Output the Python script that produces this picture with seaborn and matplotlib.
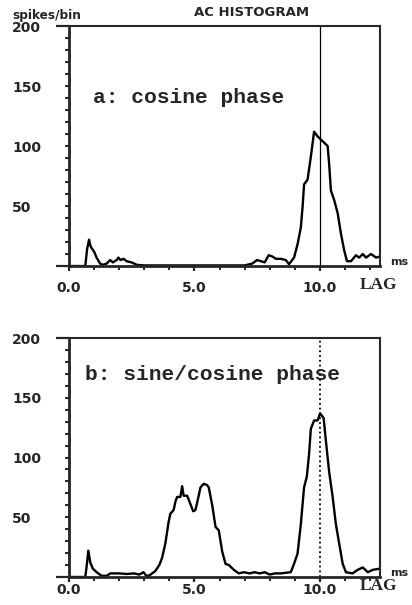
import numpy as np
import pandas as pd
import matplotlib
matplotlib.use("Agg")
import matplotlib.pyplot as plt
from matplotlib.ticker import MultipleLocator, FixedLocator, FuncFormatter
import seaborn as sns

# ---- data ----
lag_a = [0.0, 0.65, 0.72, 0.8, 0.85, 0.9, 1.0, 1.1, 1.24, 1.35, 1.5, 1.64, 1.75, 1.9, 1.97,
         2.05, 2.17, 2.3, 2.5, 2.7, 3.0, 4.0, 5.0, 6.0, 7.0, 7.3, 7.5, 7.65, 7.8, 7.96, 8.1,
         8.25, 8.44, 8.64, 8.77, 8.97, 9.11, 9.24, 9.31, 9.37, 9.51, 9.64, 9.77, 9.91, 10.11,
         10.31, 10.37, 10.44, 10.57, 10.71, 10.84, 10.97, 11.08, 11.24, 11.44, 11.57, 11.71,
         11.84, 12.04, 12.24, 12.4]
cnt_a = [0, 0, 14, 22, 17, 15, 12, 7, 2, 1, 2, 5, 3, 5, 7,
         5, 6, 4, 3, 1, 0.5, 0.5, 0.5, 0.5, 0.5, 2, 5, 4, 3, 9, 8,
         6, 6, 5, 1.5, 7, 18, 32, 49, 68, 72, 91, 112, 108, 104,
         100, 85, 63, 55, 44, 27, 13, 4, 4, 9, 7, 10,
         7, 10, 7, 8]

lag_b = [0.0, 0.65, 0.72, 0.77, 0.85, 0.95, 1.1, 1.3, 1.5, 1.65, 2.0, 2.3, 2.6, 2.8, 2.97,
         3.1, 3.25, 3.44, 3.6, 3.71, 3.84, 3.97, 4.04, 4.17, 4.24, 4.31, 4.44, 4.51, 4.57,
         4.71, 4.84, 4.95, 5.04, 5.17, 5.24, 5.37, 5.5, 5.57, 5.71, 5.84, 5.97, 6.11, 6.24,
         6.37, 6.57, 6.77, 6.97, 7.2, 7.4, 7.6, 7.8, 8.0, 8.2, 8.44, 8.84, 8.97, 9.11, 9.24,
         9.37, 9.48, 9.57, 9.64, 9.77, 9.91, 10.01, 10.15, 10.24, 10.37, 10.51, 10.64,
         10.77, 10.91, 11.04, 11.3, 11.51, 11.71, 11.91, 12.11, 12.4]
cnt_b = [0, 0, 12, 22, 12, 7, 4, 1, 1, 3, 3, 2.5, 3, 2, 4,
         0.5, 2, 5, 10, 16, 28, 46, 53, 56, 63, 67, 67, 76, 68,
         68, 61, 55, 56, 68, 75, 78, 77, 75, 60, 42, 39, 21, 11,
         10, 6, 3, 4, 3, 4, 3, 4, 2, 3, 3, 4, 11, 19.5, 44,
         75, 84, 103, 124, 131, 131, 137, 133, 114, 88, 67, 44,
         28, 11, 4, 3, 6, 8, 4, 6, 7]

xtick_vals = [0, 5, 10]
xtick_labels = ["0.0", "5.0", "10.0"]
ytick_vals = [50, 100, 150, 200]
ytick_labels = ["50", "100", "150", "200"]
panel_titles = ["a: cosine phase", "b: sine/cosine phase"]
marker_lag = 10.0

sns.set_style("ticks")
plt.rcParams["font.family"] = ["DejaVu Sans"]
plt.rcParams["font.weight"] = "bold"

fig = plt.figure(figsize=(4.12, 6.05), dpi=100)
ax_a = fig.add_axes([0.1675, 0.5603, 0.755, 0.3967])
ax_b = fig.add_axes([0.1675, 0.0463, 0.755, 0.395])

df_a = pd.DataFrame({"lag": lag_a, "count": cnt_a})
df_b = pd.DataFrame({"lag": lag_b, "count": cnt_b})

ylab = dict(zip(ytick_vals, ytick_labels))


def yfmt(v, pos):
    return ylab.get(int(round(v)), "")


setups = [
    (ax_a, df_a, panel_titles[0], (0.077, 0.679), "-", 0.9, 7.0),
    (ax_b, df_b, panel_titles[1], (0.051, 0.824), ":", 1.3, 0.6),
]

for ax, df, title, tpos, vls, vlw, xpad in setups:
    sns.lineplot(data=df, x="lag", y="count", ax=ax, color="black",
                 linewidth=1.7, estimator=None, sort=False)
    ax.axvline(marker_lag, color="black", linestyle=vls, linewidth=vlw, zorder=1)
    ax.set_xlim(0, 12.4)
    ax.set_ylim(0, 200)
    ax.set_xlabel("")
    ax.set_ylabel("")
    ax.xaxis.set_major_locator(FixedLocator(xtick_vals))
    ax.set_xticklabels(xtick_labels)
    ax.xaxis.set_minor_locator(MultipleLocator(1))
    # long ticks at the axis ends (0 and 200), short ticks every 10
    ax.yaxis.set_major_locator(FixedLocator([0, 200]))
    ax.yaxis.set_major_formatter(FuncFormatter(yfmt))
    ax.yaxis.set_minor_locator(MultipleLocator(10))
    ax.yaxis.set_minor_formatter(FuncFormatter(yfmt))
    ax.tick_params(axis="y", which="major", direction="out", length=9.5, width=1.6,
                   pad=31.5, labelsize=10)
    ax.tick_params(axis="y", which="minor", direction="out", length=3, width=1.4,
                   pad=38.0, labelsize=10)
    ax.tick_params(axis="x", which="major", direction="out", length=3.6, width=1.6,
                   pad=xpad, labelsize=10)
    ax.tick_params(axis="x", which="minor", direction="out", length=2.6, width=1.4)
    for side in ["left", "bottom"]:
        ax.spines[side].set_linewidth(2.0)
    for side in ["top", "right"]:
        ax.spines[side].set_linewidth(1.5)
    ax.text(tpos[0], tpos[1], title, transform=ax.transAxes, ha="left",
            va="baseline", family="Liberation Mono", fontweight="bold", fontsize=15.3)
    ax.text(1.06, 0.015, "ms", transform=ax.transAxes, ha="center", va="center",
            fontsize=8, fontweight="bold", clip_on=False)

ax_a.text(0.995, -0.079, "LAG", transform=ax_a.transAxes, ha="center", va="center",
          family="Liberation Serif", fontweight="bold", fontsize=12.5, clip_on=False)
ax_b.text(0.995, -0.036, "LAG", transform=ax_b.transAxes, ha="center", va="center",
          family="Liberation Serif", fontweight="bold", fontsize=12.5, clip_on=False)

fig.text(12 / 412, 1 - 15 / 605, "spikes/bin", ha="left", va="center",
         fontsize=8.7, fontweight="bold")
fig.text(252 / 412, 1 - 13 / 605, "AC HISTOGRAM", ha="center", va="center",
         fontsize=9.5, fontweight="bold")

fig.canvas.draw()
for ax in (ax_a, ax_b):
    for lab in ax.yaxis.get_majorticklabels() + ax.yaxis.get_minorticklabels():
        lab.set_horizontalalignment("left")

fig.savefig("out.png", dpi=100)
